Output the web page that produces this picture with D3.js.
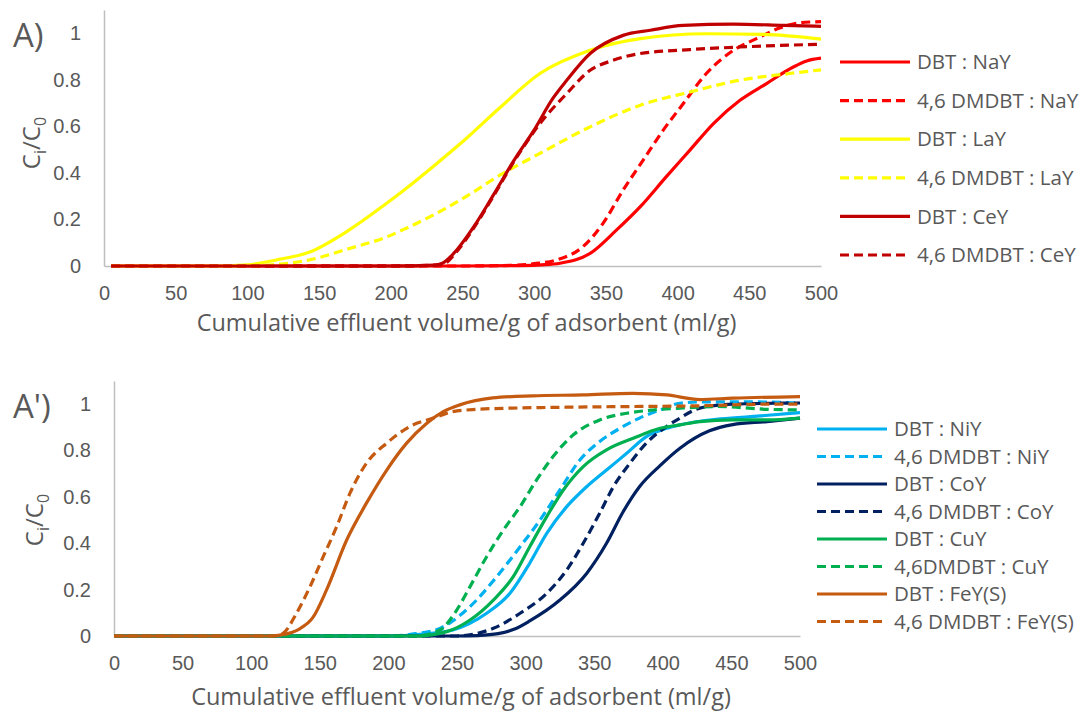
<!DOCTYPE html>
<html>
<head>
<meta charset="utf-8">
<script src="https://cdn.jsdelivr.net/npm/d3@7"></script>
<style>
  body { margin: 0; background: #fff; }
  svg { display: block; font-family: "Open Sans", sans-serif; }
</style>
</head>
<body>
<svg id="chart" width="1091" height="713"></svg>
<script>
// Axis ticks shared by both panels
const volumeTicks = [0, 50, 100, 150, 200, 250, 300, 350, 400, 450, 500];
const ratioTicks = [0, 0.2, 0.4, 0.6, 0.8, 1];

// Panel A: breakthrough curves [volume ml/g, Ci/C0]
const dbtNaY = [[5,0],[250,0],[290,0.002],[305,0.005],[318,0.012],[339,0.054],[357.5,0.155],[374,0.255],[392,0.383],[408.6,0.498],[425,0.612],[443.5,0.712],[462,0.784],[480.7,0.855],[490,0.881],[500,0.893]];
const dmdbtNaY = [[5,0],[250,0],[285,0.003],[300,0.01],[315.7,0.026],[334,0.083],[348,0.183],[362,0.326],[376,0.455],[390,0.584],[404,0.698],[420,0.827],[439,0.927],[455,0.977],[470,1.02],[485,1.045],[500,1.05]];
const dbtLaY = [[5,0],[80,0],[100,0.005],[120,0.026],[143,0.059],[171,0.155],[195,0.26],[210,0.33],[230,0.43],[253,0.55],[276,0.68],[304,0.827],[339,0.927],[374,0.977],[420,0.998],[460,0.995],[500,0.975]];
const dmdbtLaY = [[5,0],[100,0],[117,0.005],[143,0.026],[171,0.075],[195,0.12],[210,0.16],[230,0.22],[253,0.3],[276,0.39],[304,0.484],[339,0.598],[374,0.691],[409,0.748],[443,0.798],[478,0.827],[500,0.843]];
const dbtCeY = [[5,0],[200,0],[230,0.004],[236,0.012],[244,0.055],[258,0.17],[272,0.31],[286,0.455],[300,0.585],[313,0.72],[322.7,0.798],[339,0.913],[362,0.991],[381,1.013],[404,1.034],[439,1.039],[474,1.034],[500,1.03]];
const dmdbtCeY = [[5,0],[200,0],[232,0.004],[238,0.012],[245,0.055],[258,0.165],[272,0.305],[286,0.45],[299,0.57],[304,0.612],[322.7,0.741],[339,0.841],[355,0.884],[374,0.913],[408.6,0.93],[443.5,0.941],[500,0.953]];

// Panel A': breakthrough curves [volume ml/g, Ci/C0]
const dbtNiY = [[0,0],[200,0],[225,0.008],[247,0.026],[271.6,0.098],[288.6,0.184],[303,0.314],[315.4,0.443],[330,0.558],[344.5,0.644],[359,0.716],[373.7,0.788],[388,0.86],[402.8,0.896],[412.5,0.911],[439,0.935],[464,0.946],[500,0.964]];
const dmdbtNiY = [[0,0],[200,0],[220,0.01],[237.6,0.033],[259.5,0.127],[279,0.256],[296,0.385],[310.5,0.5],[325,0.63],[339.7,0.76],[354,0.839],[368.8,0.896],[383,0.94],[398,0.975],[412.5,1.004],[430,1.01],[460,1.01],[500,1.005]];
const dbtCoY = [[0,0],[250,0],[265,0.002],[280,0.01],[292,0.03],[303,0.065],[325,0.155],[344.5,0.27],[359,0.4],[371,0.535],[383,0.644],[398,0.735],[412.5,0.81],[434,0.885],[451,0.912],[476,0.925],[500,0.94]];
const dmdbtCoY = [[0,0],[250,0],[262,0.008],[276.5,0.033],[296,0.098],[315.4,0.184],[330,0.285],[342,0.4],[354,0.53],[364,0.644],[376,0.745],[388,0.832],[402.8,0.904],[412.5,0.94],[427,0.983],[451,1.0],[500,1.005]];
const dbtCuY = [[0,0],[220,0],[242.5,0.019],[259.5,0.069],[276.5,0.155],[291,0.256],[303,0.385],[315.4,0.515],[327.5,0.63],[342,0.731],[359,0.803],[378.5,0.853],[398,0.896],[412.5,0.911],[427,0.925],[451,0.932],[476,0.932],[500,0.94]];
const dmdbtCuY = [[0,0],[220,0],[237.6,0.026],[249.8,0.112],[259.5,0.213],[271.6,0.342],[283.8,0.457],[296,0.558],[308,0.673],[320,0.774],[334.8,0.868],[354,0.932],[373.7,0.961],[393,0.975],[412.5,0.983],[440,0.99],[476,0.978],[500,0.975]];
const dbtFeY = [[0,0],[115,0],[121,0.004],[135,0.03],[145,0.08],[155,0.2],[169.6,0.414],[184,0.573],[198.8,0.716],[213.3,0.832],[228,0.918],[240,0.968],[252,0.997],[276,1.027],[305,1.036],[342,1.04],[378,1.047],[403,1.04],[427,1.02],[451,1.026],[500,1.033]];
const dmdbtFeY = [[0,0],[115,0],[118,0.002],[123.4,0.012],[133,0.098],[142.9,0.213],[152.5,0.342],[162.3,0.472],[172,0.616],[184,0.745],[198.8,0.832],[215.7,0.904],[232.7,0.94],[247,0.968],[265,0.978],[290,0.983],[330,0.987],[378,0.99],[427,0.993],[476,1.0],[500,1.0]];

const panels = [
  {
    tag: "A)",
    left: 104, right: 821, top: 10, bottom: 266,
    titleY: 331, yTitle: [40, 143],
    legend: { lineX: 840, textX: 917, y0: 62, step: 38.6 },
    series: [
      { name: "DBT : NaY", data: dbtNaY, color: "#FF0000", dashed: false },
      { name: "4,6 DMDBT : NaY", data: dmdbtNaY, color: "#FF0000", dashed: true },
      { name: "DBT : LaY", data: dbtLaY, color: "#FFFF00", dashed: false },
      { name: "4,6 DMDBT : LaY", data: dmdbtLaY, color: "#FFFF00", dashed: true },
      { name: "DBT : CeY", data: dbtCeY, color: "#C00000", dashed: false },
      { name: "4,6 DMDBT : CeY", data: dmdbtCeY, color: "#C00000", dashed: true }
    ]
  },
  {
    tag: "A')",
    left: 114, right: 800, top: 381, bottom: 636,
    titleY: 705, yTitle: [43, 520],
    legend: { lineX: 817, textX: 894, y0: 429, step: 27.5 },
    series: [
      { name: "DBT : NiY", data: dbtNiY, color: "#00B0F0", dashed: false },
      { name: "4,6 DMDBT : NiY", data: dmdbtNiY, color: "#00B0F0", dashed: true },
      { name: "DBT : CoY", data: dbtCoY, color: "#002060", dashed: false },
      { name: "4,6 DMDBT : CoY", data: dmdbtCoY, color: "#002060", dashed: true },
      { name: "DBT : CuY", data: dbtCuY, color: "#00B050", dashed: false },
      { name: "4,6DMDBT : CuY", data: dmdbtCuY, color: "#00B050", dashed: true },
      { name: "DBT : FeY(S)", data: dbtFeY, color: "#C55A11", dashed: false },
      { name: "4,6 DMDBT : FeY(S)", data: dmdbtFeY, color: "#C55A11", dashed: true }
    ]
  }
];

const svg = d3.select("#chart");
const textColor = "#595959";
const axisColor = "#BFBFBF";
const dash = "9,5";

panels.forEach(p => {
  const x = d3.scaleLinear().domain([0, 500]).range([p.left, p.right]);
  const y = d3.scaleLinear().domain([0, 1.1]).range([p.bottom, p.top]);
  const g = svg.append("g");

  // x axis: baseline + labels, no tick marks
  const xa = g.append("g")
    .attr("transform", `translate(0,${y(0)})`)
    .call(d3.axisBottom(x).tickValues(volumeTicks).tickSize(0).tickPadding(20).tickFormat(d3.format("d")));
  xa.select(".domain").attr("stroke", axisColor).attr("stroke-width", 1.5);
  xa.selectAll("text").attr("fill", textColor).style("font-size", "20px");

  // y axis
  const ya = g.append("g")
    .attr("transform", `translate(${x(0)},0)`)
    .call(d3.axisLeft(y).tickValues(ratioTicks).tickSize(0).tickPadding(23).tickFormat(d => d === 0 || d === 1 ? String(d) : d.toFixed(1)));
  ya.select(".domain").attr("stroke", axisColor).attr("stroke-width", 1.5);
  ya.selectAll("text").attr("fill", textColor).style("font-size", "20px");

  // axis titles
  g.append("text")
    .attr("x", (p.left + p.right) / 2 + 4)
    .attr("y", p.titleY)
    .attr("text-anchor", "middle")
    .attr("fill", textColor)
    .style("font-size", "23.5px")
    .text("Cumulative effluent volume/g of adsorbent (ml/g)");

  const yt = g.append("text")
    .attr("transform", `translate(${p.yTitle[0]},${p.yTitle[1]}) rotate(-90)`)
    .attr("text-anchor", "middle")
    .attr("fill", textColor)
    .style("font-size", "24px");
  yt.append("tspan").text("C");
  yt.append("tspan").attr("dy", 6).style("font-size", "16px").text("i");
  yt.append("tspan").attr("dy", -6).text("/C");
  yt.append("tspan").attr("dy", 6).style("font-size", "16px").text("0");

  // panel tag
  g.append("text")
    .attr("x", 13)
    .attr("y", p.top + 37)
    .attr("fill", textColor)
    .style("font-size", "33px")
    .text(p.tag);

  // curves
  const line = d3.line().x(d => x(d[0])).y(d => y(d[1])).curve(d3.curveMonotoneX);
  p.series.forEach(s => {
    g.append("path")
      .datum(s.data)
      .attr("d", line)
      .attr("fill", "none")
      .attr("stroke", s.color)
      .attr("stroke-width", 3.2)
      .attr("stroke-dasharray", s.dashed ? dash : null);
  });

  // legend
  const lg = g.append("g");
  p.series.forEach((s, i) => {
    const yy = p.legend.y0 + i * p.legend.step;
    lg.append("line")
      .attr("x1", p.legend.lineX).attr("x2", p.legend.lineX + 70)
      .attr("y1", yy).attr("y2", yy)
      .attr("stroke", s.color).attr("stroke-width", 3.2)
      .attr("stroke-dasharray", s.dashed ? dash : null);
    lg.append("text")
      .attr("x", p.legend.textX).attr("y", yy)
      .attr("dy", "0.35em")
      .attr("fill", textColor)
      .style("font-size", "20.5px")
      .text(s.name);
  });
});
</script>
</body>
</html>
